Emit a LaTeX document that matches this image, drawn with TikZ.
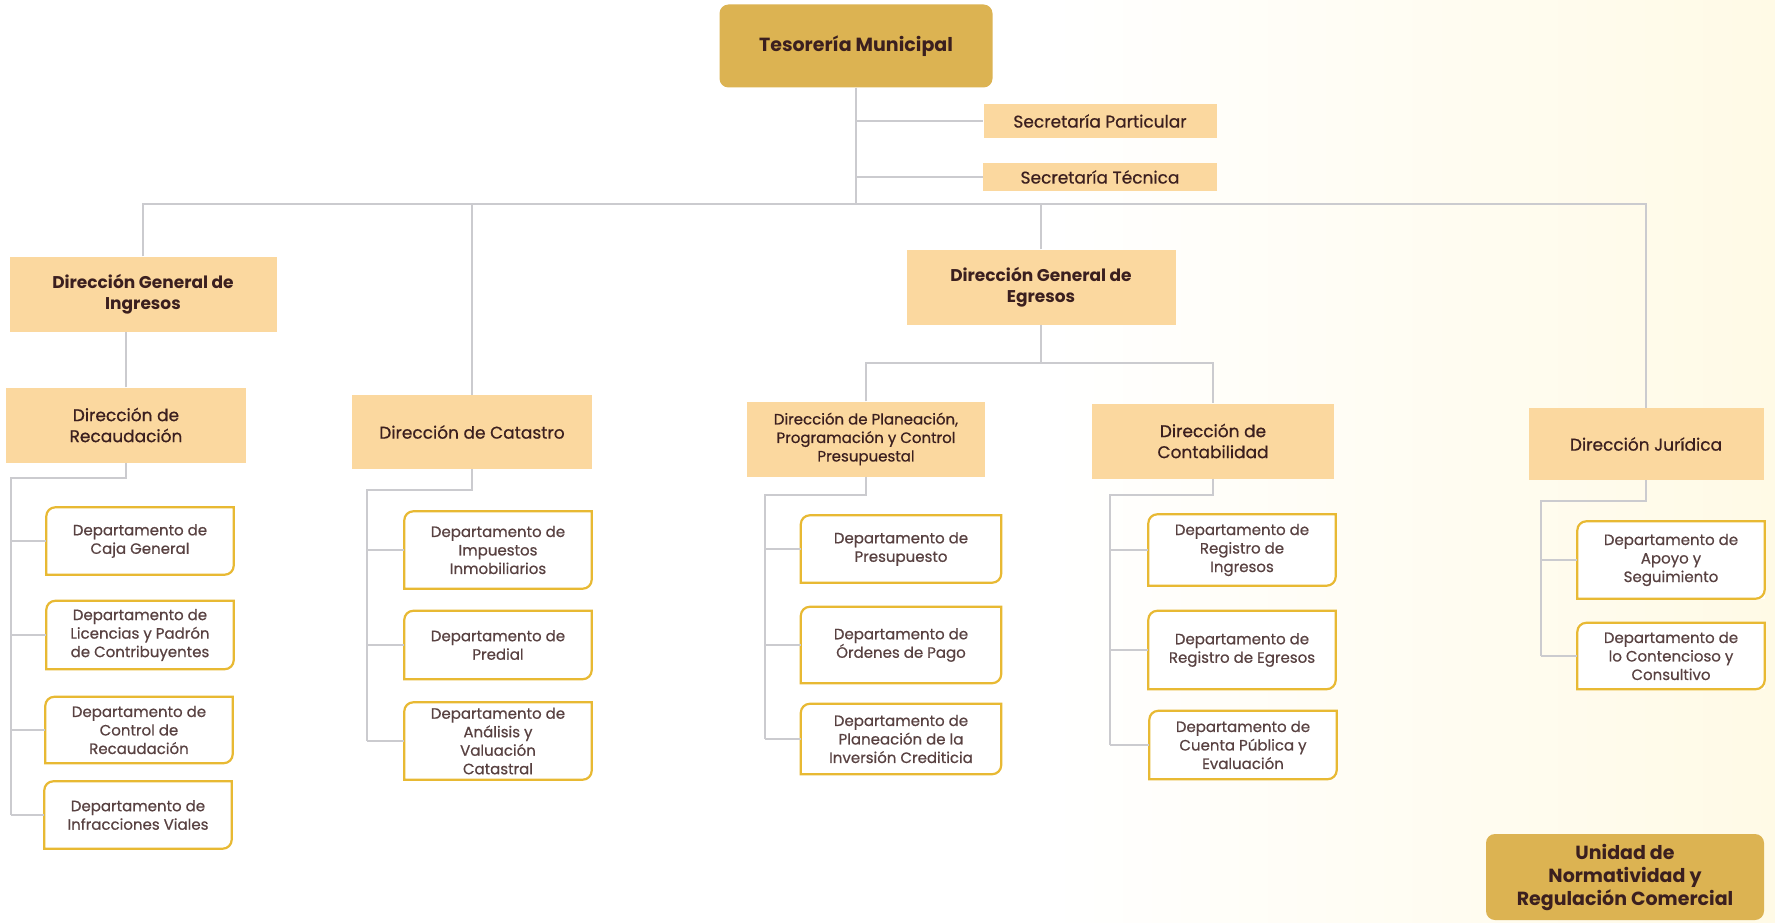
\documentclass[tikz,border=0pt]{standalone}
\usepackage{fontspec}
\setmainfont{Poppins}
\newfontfamily\medio{Poppins}[FakeBold=0.6]
\usepackage{tikz}

\definecolor{oro}{HTML}{DCB352}
\definecolor{durazno}{HTML}{FBD89F}
\definecolor{bordeoro}{HTML}{E8B933}
\definecolor{gris}{HTML}{CBCBCF}
\definecolor{tinta}{HTML}{3B1F1F}
\definecolor{crema}{HTML}{FFFAE6}

\begin{document}
\begin{tikzpicture}[x=1pt, y=-1pt,
    titular/.style={fill=oro, rounded corners=9pt, text=tinta, align=center, inner sep=0pt,
        font=\bfseries\fontsize{19}{23}\selectfont},
    direccion/.style={fill=durazno, text=tinta, align=center, inner sep=0pt,
        font=\medio\fontsize{17}{21}\selectfont},
    general/.style={direccion, font=\bfseries\fontsize{17}{21}\selectfont},
    depto/.style={fill=white, text=tinta!85, align=center, inner sep=0pt,
        minimum width=187pt, font=\medio\fontsize{15}{18.5}\selectfont},
    rama/.style={draw=gris, line width=1.6pt},
    borde/.style={draw=bordeoro, line width=2.2pt}]

        % Page and background
        \useasboundingbox (0,0) rectangle (1775,923);
        \fill[white] (0,0) rectangle (1775,923);
        \shade[left color=white, right color=crema] (1050,0) rectangle (1775,923);

        \newcommand{\deptoborde}[1]{
            \draw[borde] (#1.south west) -- ([yshift=-9pt]#1.north west)
                to[out=90,in=180] ([xshift=9pt]#1.north west) -- (#1.north east)
                -- ([yshift=9pt]#1.south east) to[out=-90,in=0] ([xshift=-9pt]#1.south east) -- cycle;
        }

        % Head and secretaries
        \node[titular, minimum width=273pt, minimum height=83pt] (tes) at (856,46) {Tesorería Municipal};
        \node[direccion, minimum width=233pt, minimum height=34pt] (secpar) at (1100,121) {Secretaría Particular};
        \node[direccion, minimum width=234pt, minimum height=28pt] (sectec) at (1100,177) {Secretaría Técnica};

        % Directions
        \node[general, minimum width=267pt, minimum height=75pt] (dgi) at (143,294) {Dirección General de\\Ingresos};
        \node[general, minimum width=269pt, minimum height=75pt] (dge) at (1041,287) {Dirección General de\\Egresos};
        \node[direccion, minimum width=240pt, minimum height=75pt] (recaud) at (126,425) {Dirección de\\Recaudación};
        \node[direccion, minimum width=240pt, minimum height=74pt] (catastro) at (472,432) {Dirección de Catastro};
        \node[direccion, minimum width=238pt, minimum height=75pt, font=\medio\fontsize{15}{18.5}\selectfont] (plan) at (866,439) {Dirección de Planeación,\\Programación y Control\\Presupuestal};
        \node[direccion, minimum width=242pt, minimum height=75pt] (conta) at (1213,441) {Dirección de\\Contabilidad};
        \node[direccion, minimum width=235pt, minimum height=72pt] (juri) at (1646,444) {Dirección Jurídica};

        % Departments
        \node[depto, minimum height=67pt] (caja) at (140,541) {Departamento de\\Caja General};
        \node[depto, minimum height=68pt] (licen) at (140,635) {Departamento de\\Licencias y Padrón\\de Contribuyentes};
        \node[depto, minimum height=66pt] (control) at (139,730) {Departamento de\\Control de\\Recaudación};
        \node[depto, minimum height=67pt] (infrac) at (138,815) {Departamento de\\Infracciones Viales};

        \node[depto, minimum height=77pt] (impues) at (498,550) {Departamento de\\Impuestos\\Inmobiliarios};
        \node[depto, minimum height=68pt] (predial) at (498,645) {Departamento de\\Predial};
        \node[depto, minimum height=77pt] (analisis) at (498,741) {Departamento de\\Análisis y\\Valuación\\Catastral};

        \node[depto, minimum width=200pt, minimum height=67pt] (presup) at (901,549) {Departamento de\\Presupuesto};
        \node[depto, minimum width=200pt, minimum height=76pt] (ordenes) at (901,645) {Departamento de\\Órdenes de Pago};
        \node[depto, minimum width=200pt, minimum height=70pt] (inversion) at (901,739) {Departamento de\\Planeación de la\\Inversión Crediticia};

        \node[depto, minimum height=71pt] (regingr) at (1242,550) {Departamento de\\Registro de\\Ingresos};
        \node[depto, minimum height=78pt] (regegr) at (1242,650) {Departamento de\\Registro de Egresos};
        \node[depto, minimum height=68pt] (cuenta) at (1243,745) {Departamento de\\Cuenta Pública y\\Evaluación};

        \node[depto, minimum height=77pt] (apoyo) at (1671,560) {Departamento de\\Apoyo y\\Seguimiento};
        \node[depto, minimum height=66pt] (conten) at (1671,656) {Departamento de\\lo Contencioso y\\Consultivo};

        \node[titular, minimum width=278pt, minimum height=86pt] (unidad) at (1625,877) {Unidad de\\Normatividad y\\Regulación Comercial};

        \foreach \d in {caja,licen,control,infrac,impues,predial,analisis,presup,ordenes,inversion,regingr,regegr,cuenta,apoyo,conten}
            \deptoborde{\d};

        % Main lines
        \coordinate (bus) at (856,204);
        \draw[rama] (tes.south) -- (bus);
        \draw[rama] (secpar.west -| tes.south) -- (secpar.west);
        \draw[rama] (sectec.west -| tes.south) -- (sectec.west);
        \draw[rama] (dgi.north) |- (bus) -| (juri.north);
        \draw[rama] (catastro.north) -- (catastro.north |- bus);
        \draw[rama] (dge.north) -- (dge.north |- bus);
        \draw[rama] (recaud.north) -- (recaud.north |- dgi.south);

        \coordinate (busE) at (1041,363);
        \draw[rama] (dge.south) -- (busE);
        \draw[rama] (plan.north) |- (busE) -| (conta.north);

        % Brackets to departments
        \coordinate (bI) at (11,478);
        \coordinate (bC) at (367,490);
        \coordinate (bP) at (765,495);
        \coordinate (bK) at (1110,495);
        \coordinate (bJ) at (1541,501);

        \draw[rama] (recaud.south) |- (bI) -- (bI |- infrac.west);
        \draw[rama] (catastro.south) |- (bC) -- (bC |- analisis.west);
        \draw[rama] (plan.south) |- (bP) -- (bP |- inversion.west);
        \draw[rama] (conta.south) |- (bK) -- (bK |- cuenta.west);
        \draw[rama] (juri.south) |- (bJ) -- (bJ |- conten.west);

        \foreach \d in {caja,licen,control,infrac}
            \draw[rama] (bI |- \d.west) -- (\d.west);
        \foreach \d in {impues,predial,analisis}
            \draw[rama] (bC |- \d.west) -- (\d.west);
        \foreach \d in {presup,ordenes,inversion}
            \draw[rama] (bP |- \d.west) -- (\d.west);
        \foreach \d in {regingr,regegr,cuenta}
            \draw[rama] (bK |- \d.west) -- (\d.west);
        \foreach \d in {apoyo,conten}
            \draw[rama] (bJ |- \d.west) -- (\d.west);

\end{tikzpicture}
\end{document}
